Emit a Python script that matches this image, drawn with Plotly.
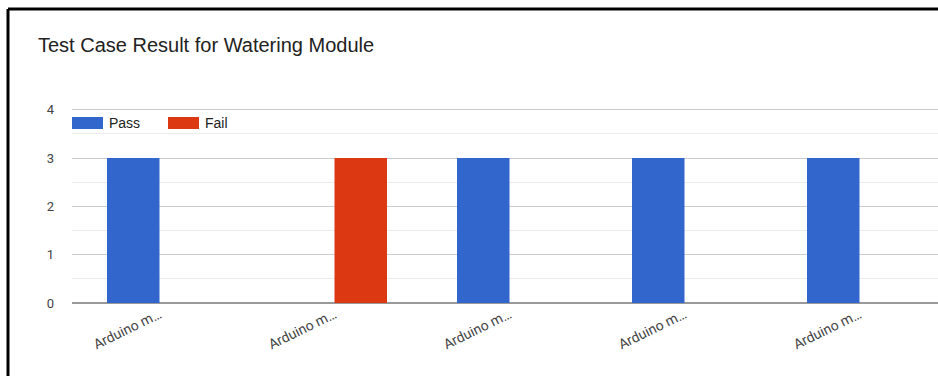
import plotly.graph_objects as go

title = "Test Case Result for Watering Module"
categories = ["Arduino m…", "Arduino m…", "Arduino m…", "Arduino m…", "Arduino m…"]
series_names = ["Pass", "Fail"]
pass_values = [3, 0, 3, 3, 3]
fail_values = [0, 3, 0, 0, 0]
colors = ["#3366CC", "#DC3912"]

W, H = 938, 376
L, R, T, B = 72, 0, 100, 73
pw, ph = W - L - R, H - T - B

def px_x(p):
    return (p - L) / pw

def px_y(p):
    return (H - B - p) / ph

x = list(range(len(categories)))
fig = go.Figure()
for name, vals, col in zip(series_names, [pass_values, fail_values], colors):
    fig.add_trace(go.Bar(x=x, y=vals, name=name, marker=dict(color=col, line=dict(width=0)),
                         showlegend=False))

shapes = []
annotations = []
# custom legend (wide swatches)
lx = [72, 168]
for i, (name, col) in enumerate(zip(series_names, colors)):
    shapes.append(dict(type="rect", xref="paper", yref="paper",
                       x0=px_x(lx[i]), x1=px_x(lx[i] + 31), y0=px_y(129), y1=px_y(117),
                       fillcolor=col, line=dict(width=0), layer="above"))
    annotations.append(dict(xref="paper", yref="paper", x=px_x(lx[i] + 35), y=px_y(123),
                            text=name, showarrow=False, xanchor="left", yanchor="middle",
                            font=dict(family="Liberation Sans, Arial", size=14, color="#222222")))
# frame
shapes.append(dict(type="line", xref="paper", yref="paper", x0=px_x(8), x1=px_x(W + 5),
                   y0=px_y(9), y1=px_y(9), line=dict(color="black", width=3)))
shapes.append(dict(type="line", xref="paper", yref="paper", x0=px_x(8), x1=px_x(8),
                   y0=px_y(9), y1=px_y(H + 5), line=dict(color="black", width=3)))

fig.update_layout(
    width=W, height=H,
    margin=dict(l=L, r=R, t=T, b=B),
    paper_bgcolor="white", plot_bgcolor="white",
    barmode="group", bargap=0.4, bargroupgap=0,
    showlegend=False,
    title=dict(text=title, x=38 / W, xref="container", xanchor="left",
               y=1 - 45 / H, yref="container", yanchor="middle",
               font=dict(family="Liberation Sans, Arial", size=20, color="#222222")),
    shapes=shapes, annotations=annotations,
    xaxis=dict(tickvals=x, ticktext=categories, range=[-0.5, -0.5 + pw / 175],
               tickangle=-26, showgrid=False, zeroline=False, showline=False, ticks="",
               tickfont=dict(family="Roboto", size=14, color="#444444")),
    yaxis=dict(range=[0, 4.2], tickvals=[0, 1, 2, 3, 4], showgrid=True, gridcolor="#cccccc", gridwidth=1,
               minor=dict(tickvals=[0.5, 1.5, 2.5, 3.5], showgrid=True, gridcolor="#ebebeb", gridwidth=1),
               zeroline=True, zerolinecolor="#999999", zerolinewidth=2,
               showline=False, ticks="", ticklabelstandoff=17,
               tickfont=dict(family="Roboto", size=13, color="#444444")),
)
fig.write_html("out.html")
